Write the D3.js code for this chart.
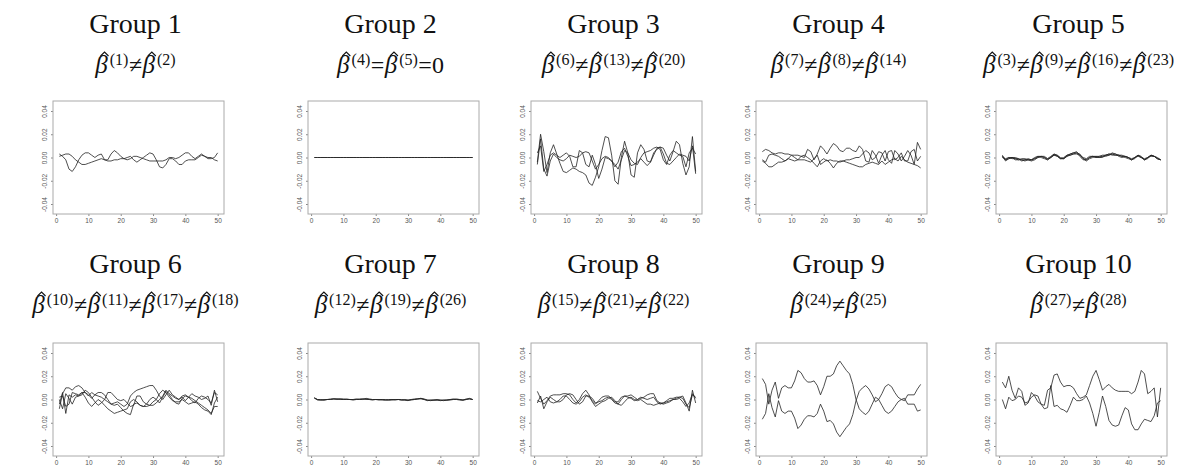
<!DOCTYPE html>
<html><head><meta charset="utf-8">
<script src="https://cdn.jsdelivr.net/npm/d3@7"></script>
<style>body{margin:0;background:#fff}</style></head>
<body><svg id="c" width="1196" height="467"></svg>
<script>
// ---------- data ----------
const xIndex = d3.range(1, 51);
const yTicks = [-0.04, -0.02, 0.00, 0.02, 0.04];
const xTicks = [0, 10, 20, 30, 40, 50];
const groupTitles = ["Group 1","Group 2","Group 3","Group 4","Group 5","Group 6","Group 7","Group 8","Group 9","Group 10"];
const groupCoefs = [[1,2],[4,5],[6,13,20],[7,8,14],[3,9,16,23],[10,11,17,18],[12,19,26],[15,21,22],[24,25],[27,28]];

const g1a = [0.003,0.001,-0.002,-0.010,-0.012,-0.008,-0.002,0.002,0.004,0.004,0.002,0.000,0.002,0.003,-0.002,-0.002,0.003,0.006,0.004,0.001,-0.001,0.000,0.001,-0.002,-0.004,-0.002,0.000,0.002,0.004,0.003,-0.002,-0.008,-0.009,-0.006,-0.001,-0.001,-0.003,-0.006,-0.006,-0.003,-0.002,-0.002,-0.002,0.000,0.002,0.001,-0.001,-0.001,0.000,0.004];
const g1b = [0.001,0.002,0.003,0.003,0.001,-0.002,-0.004,-0.006,-0.006,-0.005,-0.004,-0.003,-0.002,-0.001,-0.002,-0.003,-0.003,-0.002,-0.002,-0.001,-0.001,-0.002,-0.001,0.001,0.001,0.000,-0.001,-0.002,-0.003,-0.003,-0.003,-0.003,-0.003,-0.002,0.000,0.000,-0.001,0.000,0.002,0.004,0.004,0.001,-0.001,0.001,0.003,0.001,0.000,0.000,-0.002,-0.003];
const g2a = [0,0,0,0,0,0,0,0,0,0,0,0,0,0,0,0,0,0,0,0,0,0,0,0,0,0,0,0,0,0,0,0,0,0,0,0,0,0,0,0,0,0,0,0,0,0,0,0,0,0];
const g2b = [0,0,0,0,0,0,0,0,0,0,0,0,0,0,0,0,0,0,0,0,0,0,0,0,0,0,0,0,0,0,0,0,0,0,0,0,0,0,0,0,0,0,0,0,0,0,0,0,0,0];
const g3a = [-0.004,0.020,0.005,-0.013,0.004,0.011,0.003,-0.005,-0.012,-0.013,-0.011,-0.009,-0.010,-0.012,-0.013,-0.015,-0.022,-0.024,-0.017,-0.008,0.006,0.018,0.017,0.002,-0.020,-0.023,0.000,0.014,0.004,-0.015,-0.017,0.004,0.011,0.007,-0.003,-0.004,0.004,0.007,0.009,0.008,0.002,-0.003,0.005,0.014,0.011,-0.005,-0.015,-0.008,0.018,-0.012];
const g3b = [0.004,0.010,-0.012,-0.006,0.002,0.004,0.002,0.000,0.002,0.004,0.001,-0.008,-0.008,0.006,0.004,-0.006,-0.008,0.002,-0.006,-0.018,-0.010,0.000,-0.001,-0.003,-0.006,-0.010,-0.002,0.006,0.004,-0.002,-0.005,-0.006,0.000,0.004,0.005,0.006,0.008,0.009,0.007,-0.002,-0.006,0.002,0.006,0.004,0.002,0.001,-0.008,0.004,0.008,0.003];
const g3c = [-0.006,0.016,-0.010,-0.016,-0.003,0.003,0.000,-0.002,-0.003,-0.001,0.002,0.001,0.000,0.001,0.004,0.005,0.004,-0.003,-0.010,-0.006,-0.001,0.001,0.000,-0.003,-0.008,-0.004,0.005,0.008,0.001,-0.007,-0.006,-0.004,-0.001,-0.004,-0.007,-0.004,0.002,0.008,0.009,0.003,-0.005,-0.006,-0.003,0.000,0.003,0.002,0.001,-0.003,0.010,-0.014];
const g4a = [0.005,0.007,0.006,0.004,0.003,0.004,0.004,0.003,0.003,0.002,0.002,0.002,0.001,0.000,0.007,0.005,-0.002,0.003,0.010,0.007,0.003,0.008,0.012,0.010,0.006,0.005,0.008,0.008,0.006,0.005,0.010,0.007,-0.003,-0.004,0.006,0.002,-0.005,0.002,0.006,-0.002,-0.005,0.006,0.003,-0.003,0.001,0.006,0.002,-0.006,0.013,0.007];
const g4b = [-0.003,-0.005,-0.008,-0.008,-0.006,-0.004,-0.004,-0.003,-0.001,-0.002,-0.003,-0.002,-0.002,-0.002,-0.003,-0.004,-0.001,0.002,-0.006,-0.004,-0.002,-0.005,-0.009,-0.005,-0.003,-0.003,-0.004,-0.005,-0.006,-0.007,-0.008,-0.008,-0.006,-0.005,-0.004,-0.005,-0.006,-0.003,-0.006,-0.004,-0.002,-0.001,-0.003,0.001,-0.002,-0.004,-0.005,-0.006,-0.007,-0.009];
const g4c = [-0.002,-0.004,0.002,0.003,0.002,0.001,-0.001,-0.003,-0.001,0.002,0.000,-0.002,0.001,0.002,0.000,-0.002,-0.005,-0.008,-0.003,-0.001,-0.003,-0.002,-0.003,-0.003,-0.004,-0.003,-0.002,-0.002,-0.001,0.000,0.000,0.003,0.006,0.004,-0.002,0.000,0.005,0.004,-0.003,0.005,0.006,-0.002,0.000,0.004,-0.003,-0.003,0.005,0.007,-0.003,0.001];
const g5a = [0.001,-0.003,-0.001,0.000,-0.001,-0.001,-0.002,-0.002,-0.002,-0.002,-0.001,0.000,0.001,0.000,-0.002,0.000,0.003,0.002,-0.001,-0.001,0.002,0.003,0.004,0.005,0.002,-0.001,-0.002,0.000,0.001,0.000,0.000,0.001,0.002,0.003,0.003,0.003,0.002,0.001,0.001,0.000,-0.002,0.000,0.002,0.000,-0.002,0.000,0.002,0.001,-0.001,-0.002];
const g5b = [0.000,-0.001,0.000,0.000,-0.002,-0.002,-0.001,-0.001,-0.002,-0.003,-0.002,0.000,0.001,0.001,-0.001,0.000,0.002,0.002,0.000,-0.001,0.001,0.002,0.003,0.003,0.002,0.000,-0.001,0.001,0.001,0.000,0.001,0.002,0.002,0.002,0.003,0.002,0.002,0.002,0.001,0.000,-0.001,0.000,0.001,0.000,-0.001,0.000,0.001,0.001,0.000,-0.002];
const g5c = [0.002,-0.002,0.000,-0.001,-0.001,-0.002,-0.002,-0.003,-0.002,-0.002,-0.001,0.001,0.001,0.000,-0.001,0.001,0.003,0.001,-0.001,0.000,0.002,0.002,0.003,0.004,0.003,-0.001,-0.003,-0.001,0.000,0.001,0.001,0.001,0.001,0.002,0.004,0.003,0.001,0.000,0.001,0.000,-0.002,-0.001,0.002,0.001,-0.002,-0.001,0.002,0.001,-0.001,-0.002];
const g5d = [0.001,-0.002,-0.001,0.000,0.000,-0.001,-0.003,-0.002,-0.001,-0.002,0.000,0.001,0.000,-0.001,-0.002,0.000,0.002,0.001,-0.001,-0.001,0.001,0.003,0.004,0.004,0.001,-0.002,-0.002,0.000,0.001,0.001,0.000,0.000,0.002,0.003,0.002,0.002,0.002,0.001,0.000,-0.001,-0.002,0.000,0.002,0.000,-0.002,0.000,0.002,0.001,-0.001,-0.002];
const g6a = [-0.008,0.005,0.010,0.010,0.008,0.011,0.012,0.010,0.006,0.003,0.006,0.004,0.003,0.002,0.000,-0.002,-0.004,-0.003,-0.002,-0.004,-0.006,-0.004,0.003,0.006,0.008,0.009,0.010,0.011,0.012,0.012,0.008,0.003,0.000,0.004,0.008,0.004,0.002,0.000,0.003,0.004,0.002,0.001,-0.001,-0.003,-0.005,-0.007,-0.009,-0.012,-0.006,-0.006];
const g6b = [0.000,-0.008,0.005,0.001,-0.004,0.002,0.003,0.004,0.008,0.006,0.002,-0.002,-0.005,-0.003,0.000,0.006,0.006,0.003,0.000,-0.001,0.000,-0.003,-0.006,-0.005,0.003,0.003,-0.002,-0.004,-0.005,-0.005,-0.003,0.000,0.003,0.008,0.005,0.003,0.001,0.000,0.002,-0.001,0.002,0.005,0.003,0.002,0.000,0.001,0.003,-0.005,0.008,-0.002];
const g6c = [-0.004,0.006,-0.012,0.004,0.002,0.004,0.003,0.006,0.006,0.004,0.001,0.004,0.006,0.006,0.004,0.000,-0.004,-0.005,-0.004,-0.007,-0.010,-0.012,-0.013,-0.004,-0.003,-0.005,-0.006,-0.004,0.000,0.002,0.000,-0.003,0.002,0.007,0.004,0.000,-0.003,-0.004,0.001,0.003,0.002,-0.001,-0.003,0.001,0.003,0.002,0.000,-0.003,0.006,0.004];
const g6d = [0.002,0.003,-0.006,-0.004,0.006,0.005,0.004,0.006,0.002,-0.003,-0.006,-0.003,0.000,-0.002,-0.005,-0.008,-0.010,-0.012,-0.011,-0.010,-0.009,-0.008,-0.002,0.000,-0.002,-0.005,-0.006,-0.006,-0.005,-0.002,0.000,0.005,0.008,0.006,0.002,-0.001,-0.002,-0.002,0.000,-0.002,-0.004,-0.003,-0.002,-0.004,-0.007,-0.009,-0.010,-0.013,-0.003,0.002];
const g7a = [0.0015,0.000,-0.0005,-0.0005,0.000,0.000,0.0005,0.0005,0.0005,0.000,0.000,0.000,0.000,0.000,0.000,0.0005,0.0005,0.000,0.000,0.000,0.000,0.000,-0.0005,-0.0005,0.000,0.000,0.000,-0.0005,-0.0005,-0.0005,0.000,0.000,0.0005,0.001,0.000,-0.0005,-0.0005,-0.0005,-0.0005,-0.0005,-0.0005,-0.0005,-0.0005,0.000,0.000,0.000,-0.0005,0.000,0.0005,0.000];
const g7b = [0.001,0.000,0.000,-0.0005,0.000,0.0005,0.0005,0.000,0.0005,0.0005,0.000,0.000,-0.0005,0.000,0.0005,0.0005,0.000,0.000,-0.0005,0.000,0.000,-0.0005,-0.0005,0.000,0.000,-0.0005,0.000,-0.0005,0.000,-0.0005,-0.0005,0.000,0.0005,0.0005,0.000,-0.001,-0.0005,-0.0005,0.000,-0.0005,-0.001,-0.0005,0.000,0.000,0.0005,0.000,-0.0005,0.000,0.001,0.000];
const g7c = [0.0015,-0.0005,-0.0005,0.000,0.000,0.000,0.0005,0.0005,0.000,0.000,0.0005,0.000,0.000,0.0005,0.000,0.000,0.001,0.0005,0.000,0.000,-0.0005,0.000,0.000,-0.0005,-0.0005,0.000,0.000,0.000,-0.0005,-0.001,0.000,0.0005,0.0005,0.001,0.0005,-0.0005,-0.001,-0.0005,-0.0005,-0.001,-0.0005,-0.0005,0.000,0.0005,0.000,-0.0005,-0.0005,0.0005,0.0005,0.000];
const g8a = [0.007,0.001,-0.004,-0.001,0.003,0.004,0.004,0.004,0.005,0.005,0.004,0.000,-0.003,0.000,0.005,0.008,0.004,-0.002,-0.006,-0.004,-0.002,-0.001,0.001,0.002,-0.001,-0.004,0.000,0.003,0.003,0.004,0.002,0.000,0.001,0.002,0.004,0.005,0.005,-0.001,-0.003,-0.004,-0.003,-0.002,0.000,0.001,0.002,0.003,-0.003,-0.010,0.008,-0.003];
const g8b = [-0.003,0.003,-0.008,-0.002,0.002,0.000,-0.002,-0.002,0.000,0.004,0.005,0.004,0.000,-0.004,-0.002,0.003,0.003,0.001,-0.003,-0.002,-0.001,0.001,0.002,0.000,-0.003,-0.004,-0.005,-0.002,0.001,0.002,0.000,-0.001,0.000,-0.002,-0.004,-0.004,-0.005,-0.004,-0.003,-0.003,-0.002,-0.001,0.000,0.000,0.001,-0.002,-0.006,-0.003,0.005,0.001];
const g8c = [-0.001,-0.002,0.000,0.002,-0.002,-0.003,-0.002,0.000,0.003,0.003,0.000,-0.003,-0.004,-0.002,0.002,0.004,0.002,-0.001,-0.004,-0.001,0.002,0.003,0.003,0.001,-0.002,-0.002,0.002,0.003,0.002,0.001,-0.001,0.000,0.002,0.001,0.000,0.001,0.002,-0.002,-0.004,-0.003,-0.001,0.001,0.001,0.002,0.002,0.001,-0.004,-0.007,0.004,0.002];
const g9a = [0.018,0.013,-0.004,0.008,0.015,0.001,0.010,0.012,0.010,0.010,0.016,0.025,0.023,0.018,0.015,0.015,0.016,0.012,0.004,0.011,0.020,0.020,0.022,0.029,0.033,0.029,0.025,0.022,0.013,0.000,-0.008,-0.011,-0.013,-0.010,-0.004,0.002,0.000,0.005,0.011,0.013,0.011,0.006,0.002,0.000,-0.001,0.004,0.004,0.004,0.009,0.013];
const g9b = [-0.017,-0.012,0.005,-0.007,-0.015,-0.001,-0.010,-0.012,-0.010,-0.010,-0.016,-0.025,-0.022,-0.017,-0.014,-0.014,-0.015,-0.012,-0.004,-0.010,-0.019,-0.018,-0.021,-0.028,-0.032,-0.028,-0.024,-0.021,-0.013,-0.001,0.007,0.010,0.012,0.009,0.004,-0.002,0.000,-0.005,-0.010,-0.012,-0.010,-0.006,-0.002,0.000,0.001,-0.004,-0.004,-0.004,-0.010,-0.009];
const g10a = [0.015,0.010,0.020,0.008,0.001,0.010,0.007,-0.005,-0.003,0.006,0.003,-0.002,-0.004,-0.005,0.008,0.010,0.021,0.022,0.015,0.011,0.012,0.012,0.010,0.005,0.001,0.002,0.004,0.012,0.020,0.025,0.017,0.008,0.011,0.013,0.010,0.008,0.007,0.007,0.007,0.007,0.005,0.007,0.015,0.025,0.022,0.005,0.007,0.010,-0.015,0.010];
const g10b = [0.000,-0.008,0.002,-0.001,0.000,0.003,0.002,-0.003,-0.002,0.002,0.004,0.003,-0.004,-0.008,-0.007,0.012,-0.006,-0.005,-0.008,-0.009,-0.011,-0.005,0.002,-0.001,-0.001,0.000,0.003,-0.003,-0.012,-0.023,-0.011,0.003,-0.006,-0.018,-0.022,-0.023,-0.022,-0.014,-0.007,-0.009,-0.021,-0.026,-0.026,-0.021,-0.017,-0.018,-0.019,-0.014,-0.003,-0.001];

const groupSeries = [[g1a,g1b],[g2a,g2b],[g3a,g3b,g3c],[g4a,g4b,g4c],[g5a,g5b,g5c,g5d],
                     [g6a,g6b,g6c,g6d],[g7a,g7b,g7c],[g8a,g8b,g8c],[g9a,g9b],[g10a,g10b]];

// ---------- layout ----------
const colLeft = [53, 308, 531, 756, 996];
const rowTop = [101, 343];
const plotW = 171, plotH = 113;
const titleY = [33, 273];
const subY = [73, 313];
const SERIF = "Liberation Serif, Times New Roman, serif";

const svg = d3.select("#c");
svg.append("rect").attr("width",1196).attr("height",467).attr("fill","#fff");

const x = d3.scaleLinear().domain([-0.96, 51.96]).range([0, plotW]);
const y = d3.scaleLinear().domain([-0.0486, 0.0486]).range([plotH, 0]);
const line = d3.line().x((d,i)=>x(xIndex[i])).y(d=>y(d));

function mathLabel(cx, baseY, ids, rel, tail) {
  const g = svg.append("g");
  let xc = 0;
  const put = (txt, size, italic, dy) => {
    const t = g.append("text").attr("x", xc).attr("y", dy).attr("font-size", size)
      .attr("font-family", SERIF).attr("font-style", italic ? "italic" : "normal")
      .attr("fill", "#111").text(txt);
    const w = t.node().getComputedTextLength();
    const s = xc; xc += w; return {s, w};
  };
  ids.forEach((k, j) => {
    if (j > 0) { xc += 0.5; put(rel, 24, false, 0); xc += 0.5; }
    const b = put("\u03B2", 25, true, 0);
    const hx = b.s + b.w/2 + 3;
    g.append("path").attr("d", `M${hx-4},-17 L${hx},-21 L${hx+4},-17`)
      .attr("fill","none").attr("stroke","#111").attr("stroke-width",1.1);
    xc += 2;
    put("(" + k + ")", 16, false, -8);
  });
  if (tail) { xc += 0.5; put(tail, 24, false, 0); }
  g.attr("transform", `translate(${cx - xc/2},${baseY})`);
}

groupTitles.forEach((t, gi) => {
  const r = Math.floor(gi/5), c = gi % 5;
  const L = colLeft[c], T = rowTop[r];
  const cx = L + plotW/2 - 3;

  svg.append("text").attr("x", cx).attr("y", titleY[r])
    .attr("text-anchor","middle").attr("font-family", SERIF)
    .attr("font-size", 28).attr("fill","#111").text(t);

  mathLabel(cx, subY[r], groupCoefs[gi], gi === 1 ? "=" : "\u2260", gi === 1 ? "=0" : null);

  const g = svg.append("g").attr("transform", `translate(${L},${T})`);
  const ya = g.append("g").call(d3.axisLeft(y).tickValues(yTicks).tickSize(2).tickFormat(d=>d.toFixed(2)));
  ya.select(".domain").remove();
  ya.selectAll(".tick line").attr("stroke","#888");
  ya.selectAll(".tick text").attr("font-family","Liberation Sans, Arial, sans-serif").attr("font-size",6.5).attr("fill","#555")
    .attr("text-anchor","middle").attr("x",0).attr("dy",0)
    .attr("transform","translate(-6,0) rotate(-90)");
  const xa = g.append("g").attr("transform",`translate(0,${plotH})`)
    .call(d3.axisBottom(x).tickValues(xTicks).tickSize(2).tickFormat(d3.format("d")));
  xa.select(".domain").remove();
  xa.selectAll(".tick line").attr("stroke","#888");
  xa.selectAll(".tick text").attr("font-family","Liberation Sans, Arial, sans-serif").attr("font-size",6.5).attr("fill","#555").attr("y",4);

  g.append("rect").attr("width",plotW).attr("height",plotH).attr("fill","none").attr("stroke","#aaa").attr("stroke-width",1);

  groupSeries[gi].forEach(s => {
    g.append("path").datum(s).attr("d", line).attr("fill","none").attr("stroke","#222").attr("stroke-width",0.8);
  });
});
</script></body></html>
